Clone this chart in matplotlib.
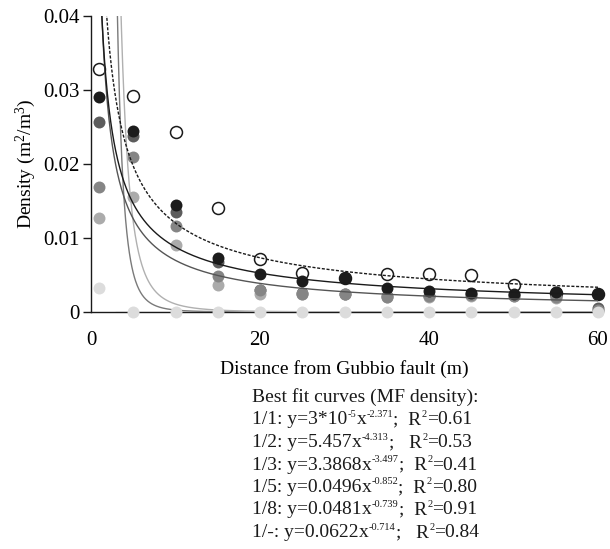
import numpy as np
import matplotlib
matplotlib.use("Agg")
import matplotlib.pyplot as plt
from matplotlib.ticker import FixedLocator, FixedFormatter

plt.rcParams['font.family'] = ['Liberation Serif', 'DejaVu Serif']
plt.rcParams['mathtext.fontset'] = 'custom'
plt.rcParams['mathtext.rm'] = 'Liberation Serif'
plt.rcParams['mathtext.it'] = 'Liberation Serif'
plt.rcParams['mathtext.bf'] = 'Liberation Serif'

# ---- data ----
distance = [1, 5, 10, 15, 20, 25, 30, 35, 40, 45, 50, 55, 60]
series_names = ["1/1", "1/2", "1/3", "1/5", "1/8", "1/-"]
dens_1_1 = [0.0033, 0, 0, 0, 0, 0, 0, 0, 0, 0, 0, 0, 0]
dens_1_2 = [0.0169, 0.0210, 0.0116, 0.0049, 0.0030, 0.0024, 0.0024, 0.0020, 0.0021, 0.0023, 0.0022, 0.0020, 0.0003]
dens_1_3 = [0.0127, 0.0156, 0.0091, 0.0037, 0.0024, 0.0024, 0.0025, 0.0020, 0.0020, 0.0021, 0.0021, 0.0019, 0.0002]
dens_1_5 = [0.0257, 0.0238, 0.0135, 0.0067, 0.0030, 0.0026, 0.0025, 0.0021, 0.0021, 0.0025, 0.0023, 0.0021, 0.0005]
dens_1_8 = [0.0290, 0.0245, 0.0144, 0.0073, 0.0051, 0.0042, 0.0046, 0.0033, 0.0028, 0.0026, 0.0024, 0.0027, 0.0025]
dens_1_dash = [0.0329, 0.0292, 0.0243, 0.0141, 0.0072, 0.0053, 0.0046, 0.0052, 0.0051, 0.0050, 0.0036, 0.0026, 0.0025]

fit_coef = [3e-5, 5.457, 3.3868, 0.0496, 0.0481, 0.0622]
fit_exp = [-2.371, -4.313, -3.497, -0.852, -0.739, -0.714]
fit_coef_text = ["3*10", "5.457", "3.3868", "0.0496", "0.0481", "0.0622"]
fit_coef_sup = ["-5", "", "", "", "", ""]
fit_r2 = ["0.61", "0.53", "0.41", "0.80", "0.91", "0.84"]
fit_gap = [2, 3, 2, 2, 2, 3]

x_ticks = [0, 20, 40, 60]
y_ticks = [0, 0.01, 0.02, 0.03, 0.04]
y_tick_labels = ["0", "0.01", "0.02", "0.03", "0.04"]

# ---- figure ----
W, H = 610, 549
fig = plt.figure(figsize=(W / 100, H / 100), dpi=100)
ax = fig.add_axes([91 / W, 1 - 312 / H, (598 - 91) / W, (312 - 16) / H])
ax.set_xlim(0, 60)
ax.set_ylim(0, 0.04)

for s in ["top", "right"]:
    ax.spines[s].set_visible(False)
for s in ["left", "bottom"]:
    ax.spines[s].set_color("#1a1a1a")
    ax.spines[s].set_linewidth(1.0)

# points
ms = 8.6
pt_style = dict(linestyle="none", marker="o", markersize=ms, clip_on=False)
ax.plot(distance, dens_1_dash, markerfacecolor="white", markeredgecolor="#1a1a1a",
        markeredgewidth=1.1, zorder=2, **pt_style)
ax.plot(distance, dens_1_5, color="#5c5c5c", markeredgewidth=0, zorder=2.1, **pt_style)
ax.plot(distance, dens_1_2, color="#858585", markeredgewidth=0, zorder=2.2, **pt_style)
ax.plot(distance, dens_1_3, color="#ababab", markeredgewidth=0, zorder=2.15, **pt_style)
ax.plot(distance, dens_1_8, color="#1c1c1c", markeredgewidth=0, zorder=2.3, **pt_style)
ax.plot(distance, dens_1_1, color="#dcdcdc", markeredgewidth=0, zorder=4, **pt_style)

# fitted power curves
line_colors = ["#c8c8c8", "#7a7a7a", "#b0b0b0", "#555555", "#1a1a1a", "#1a1a1a"]
line_styles = ["-", "-", "-", "-", "-", (0, (2.2, 1.2))]
line_start = [3.0, 1.0, 1.0, 1.0, 1.0, 1.0]
for c, e, col, ls, x0 in zip(fit_coef, fit_exp, line_colors, line_styles, line_start):
    xf = np.linspace(x0, 60, 1200)
    ax.plot(xf, c * xf ** e, color=col, linestyle=ls, linewidth=1.0, zorder=3)

# ticks
ax.xaxis.set_major_locator(FixedLocator(x_ticks))
ax.xaxis.set_minor_locator(FixedLocator([0]))
ax.tick_params(axis="x", which="major", length=0, labelsize=15, pad=14)
ax.tick_params(axis="x", which="minor", length=4, width=1.0, direction="out", color="#1a1a1a")
ax.yaxis.set_major_locator(FixedLocator(y_ticks))
ax.yaxis.set_major_formatter(FixedFormatter(y_tick_labels))
ax.tick_params(axis="y", which="major", length=6, width=1.0, direction="out",
               labelsize=15, pad=2, color="#1a1a1a")

ax.set_xlabel("Distance from Gubbio fault (m)", fontsize=14, labelpad=7)
ax.set_ylabel("Density (m$^{\\mathrm{2}}$/m$^{\\mathrm{3}}$)", fontsize=14, labelpad=3.7)

# fit text block, built piece by piece so superscripts stay small
renderer = fig.canvas.get_renderer()
FS, SUP_FS, SUP_RAISE = 14, 7.5, 7.5
x_left, base0, step = 252, 402, 22.5


def put(xpx, ypx, s, sup=False):
    t = fig.text(xpx / W, 1 - ypx / H, s, fontsize=SUP_FS if sup else FS,
                 ha="left", va="baseline", color="#1a1a1a")
    bb = t.get_window_extent(renderer)
    return bb.x1


put(x_left, base0, "Best fit curves (MF density):")
for i, (name, ctext, csup, e, r2, gap) in enumerate(
        zip(series_names, fit_coef_text, fit_coef_sup, fit_exp, fit_r2, fit_gap)):
    yb = base0 + step * (i + 1)
    xp = put(x_left, yb, f"{name}: y={ctext}")
    if csup:
        xp = put(xp + 0.5, yb - SUP_RAISE, csup, sup=True)
        xp = put(xp, yb, "x")
    else:
        xp = put(xp, yb, "x") if False else put(xp, yb, "x")
    xp = put(xp + 0.5, yb - SUP_RAISE, f"{e}", sup=True)
    xp = put(xp, yb, ";" + "\u00a0" * gap + "R")
    xp = put(xp + 0.5, yb - SUP_RAISE, "2", sup=True)
    put(xp, yb, f"={r2}")

fig.savefig("out.png", dpi=100)
